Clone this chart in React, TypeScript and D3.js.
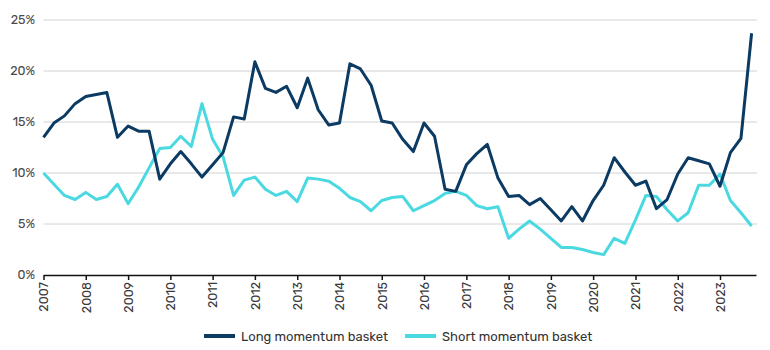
import React, { useRef, useEffect } from "react";
import * as d3 from "d3";

// quarterly observations, first one Q1 2007
const startYear = 2007;

const longBasket = [
  13.5, 14.9, 15.6, 16.8, 17.5, 17.7, 17.9, 13.5,
  14.6, 14.1, 14.1, 9.4, 10.9, 12.1, 10.9, 9.6,
  10.8, 12.0, 15.5, 15.3, 20.9, 18.3, 17.9, 18.5,
  16.4, 19.3, 16.2, 14.7, 14.9, 20.7, 20.2, 18.6,
  15.1, 14.9, 13.3, 12.1, 14.9, 13.6, 8.4, 8.2,
  10.8, 11.9, 12.8, 9.5, 7.7, 7.8, 6.9, 7.5,
  6.4, 5.3, 6.7, 5.3, 7.3, 8.8, 11.5, 10.1,
  8.8, 9.2, 6.5, 7.4, 9.9, 11.5, 11.2, 10.9,
  8.7, 12.0, 13.4, 23.7,
];

const shortBasket = [
  10.0, 8.9, 7.8, 7.4, 8.1, 7.4, 7.7, 8.9,
  7.0, 8.6, 10.5, 12.4, 12.5, 13.6, 12.6, 16.8,
  13.3, 11.6, 7.8, 9.3, 9.6, 8.4, 7.8, 8.2,
  7.2, 9.5, 9.4, 9.2, 8.5, 7.6, 7.2, 6.3,
  7.3, 7.6, 7.7, 6.3, 6.8, 7.3, 8.0, 8.2,
  7.8, 6.8, 6.5, 6.7, 3.6, 4.5, 5.3, 4.5,
  3.6, 2.7, 2.7, 2.5, 2.2, 2.0, 3.6, 3.1,
  5.4, 7.8, 7.7, 6.4, 5.3, 6.1, 8.8, 8.8,
  9.9, 7.3, 6.1, 4.8,
];

const yTicks = [0, 5, 10, 15, 20, 25];
const yearTicks = d3.range(2007, 2024);

const seriesNames = ["Long momentum basket", "Short momentum basket"];
const seriesColors = ["#0b3a63", "#4bd9e1"];

const font = "Rubik, Lato, 'Open Sans', sans-serif";

function quarterDate(i: number) {
  return new Date(startYear + Math.floor(i / 4), (i % 4) * 3, 1);
}

function MomentumChart() {
  const svgRef = useRef<SVGSVGElement>(null);

  useEffect(() => {
    const svg = d3.select(svgRef.current);
    svg.selectAll("*").remove();

    const left = 43.5;
    const right = 756;
    const top = 20;
    const bottom = 275;

    const x = d3
      .scaleTime()
      .domain([new Date(2007, 0, 1), new Date(2023, 10, 8)])
      .range([left, right]);
    const y = d3.scaleLinear().domain([0, 25]).range([bottom, top]);

    // gridlines
    svg
      .append("g")
      .selectAll("line")
      .data(yTicks.filter((d) => d > 0))
      .enter()
      .append("line")
      .attr("x1", left)
      .attr("x2", right + 1)
      .attr("y1", (d) => y(d))
      .attr("y2", (d) => y(d))
      .attr("stroke", "#d2d2d2")
      .attr("stroke-width", 1);

    // y labels
    svg
      .append("g")
      .selectAll("text")
      .data(yTicks)
      .enter()
      .append("text")
      .attr("x", 35)
      .attr("y", (d) => y(d))
      .attr("dy", "0.35em")
      .attr("text-anchor", "end")
      .attr("fill", "#4a4a4a")
      .attr("font-size", 12.5)
      .attr("font-family", font)
      .text((d) => d + "%");

    // x axis
    const xAxis = d3
      .axisBottom(x)
      .tickValues(yearTicks.map((yr) => new Date(yr, 0, 1)))
      .tickFormat((d) => d3.timeFormat("%Y")(d as Date))
      .tickSize(5)
      .tickSizeOuter(0);

    const gx = svg
      .append("g")
      .attr("transform", `translate(0,${bottom})`)
      .call(xAxis);
    gx.select(".domain").attr("stroke", "#111").attr("stroke-width", 1.5);
    gx.selectAll(".tick line").attr("stroke", "#111").attr("stroke-width", 1.5);
    gx.selectAll("text")
      .attr("transform", "rotate(-90)")
      .attr("text-anchor", "end")
      .attr("x", -7)
      .attr("y", 0)
      .attr("dy", "0.35em")
      .attr("fill", "#3a3a3a")
      .attr("font-size", 12.5)
      .attr("font-family", font);

    // lines
    const line = d3
      .line<number>()
      .x((_, i) => x(quarterDate(i)))
      .y((d) => y(d));

    [shortBasket, longBasket].forEach((data, k) => {
      svg
        .append("path")
        .datum(data)
        .attr("d", line)
        .attr("fill", "none")
        .attr("stroke", k === 0 ? seriesColors[1] : seriesColors[0])
        .attr("stroke-width", 3)
        .attr("stroke-linejoin", "round");
    });

    // legend
    const legendX = [204, 405];
    const lg = svg
      .append("g")
      .selectAll("g")
      .data(seriesNames)
      .enter()
      .append("g")
      .attr("transform", (_, i) => `translate(${legendX[i]},336)`);
    lg.append("line")
      .attr("x1", 0)
      .attr("x2", 31)
      .attr("stroke", (_, i) => seriesColors[i])
      .attr("stroke-width", 4);
    lg.append("text")
      .attr("x", 37)
      .attr("dy", "0.35em")
      .attr("fill", "#333")
      .attr("font-size", 13)
      .attr("font-family", font)
      .text((d) => d);
  }, []);

  return (
    <svg
      ref={svgRef}
      width={770}
      height={350}
      style={{ position: "absolute", left: 0, top: 0, display: "block" }}
    ></svg>
  );
}

export default function App() {
  return <MomentumChart />;
}
